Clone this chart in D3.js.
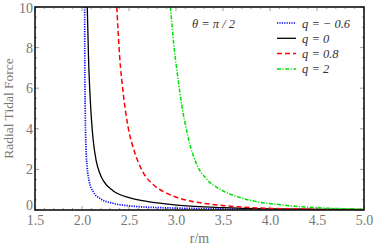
<!DOCTYPE html>
<html>
<head>
<meta charset="utf-8">
<script src="https://cdn.jsdelivr.net/npm/d3@7"></script>
<style>
  body { margin: 0; background: #fff; }
</style>
</head>
<body>
<svg width="374" height="247"></svg>
<script>
const serif = 'Liberation Serif, Times New Roman, DejaVu Serif, serif';

// values, [r/m, force]
const qNeg06 = [[2.028, 10], [2.03, 7.2], [2.034, 5.0], [2.043, 3.0], [2.055, 2.1], [2.075, 1.45], [2.12, 0.9], [2.19, 0.57], [2.33, 0.33], [2.51, 0.2], [2.86, 0.11], [3.04, 0.09], [3.5, 0.05], [4.0, 0.03], [4.5, 0.02], [5.0, 0.012]];
const q0 = [[2.056, 10], [2.07, 7.4], [2.085, 5.7], [2.1, 4.5], [2.12, 3.4], [2.15, 2.45], [2.19, 1.8], [2.23, 1.42], [2.33, 0.95], [2.51, 0.6], [2.69, 0.42], [3.04, 0.23], [3.5, 0.12], [4.0, 0.06], [4.5, 0.035], [5.0, 0.02]];
const q08 = [[2.37, 10], [2.4, 7.6], [2.44, 5.7], [2.49, 4.1], [2.56, 2.85], [2.65, 1.85], [2.76, 1.24], [2.9, 0.83], [3.02, 0.6], [3.15, 0.44], [3.36, 0.29], [3.65, 0.16], [4.0, 0.08], [4.5, 0.04], [5.0, 0.02]];
const q2 = [[2.94, 10], [2.98, 8.0], [3.02, 6.5], [3.06, 5.2], [3.1, 4.2], [3.15, 3.2], [3.22, 2.25], [3.33, 1.5], [3.47, 1.02], [3.65, 0.66], [3.86, 0.41], [4.11, 0.26], [4.46, 0.12], [4.75, 0.07], [5.0, 0.04]];

const seriesNames = ['q = − 0.6', 'q = 0', 'q = 0.8', 'q = 2'];
const xTicks = [1.5, 2.0, 2.5, 3.0, 3.5, 4.0, 4.5, 5.0];
const yTicks = [0, 2, 4, 6, 8, 10];

const series = [
  { name: seriesNames[0], data: qNeg06, color: '#0000ff', dash: '1.2,1.2', width: 1.7 },
  { name: seriesNames[1], data: q0, color: '#000000', dash: null, width: 1.3 },
  { name: seriesNames[2], data: q08, color: '#ff0000', dash: '5,3', width: 1.5 },
  { name: seriesNames[3], data: q2, color: '#00e000', dash: '4,1.5,1.2,1.5', width: 1.5 }
];

const svg = d3.select('svg');
const margin = { left: 35, right: 10, top: 7, bottom: 37 };
const width = 374, height = 247;

const x = d3.scaleLinear().domain([1.5, 5.0]).range([margin.left, width - margin.right]);
const y = d3.scaleLinear().domain([0, 10]).range([height - margin.bottom, margin.top]);

svg.append('defs').append('clipPath').attr('id', 'clip')
  .append('rect')
  .attr('x', x(1.5)).attr('y', y(10))
  .attr('width', x(5) - x(1.5)).attr('height', y(0) - y(10));

// minor ticks, inward
const minorX = d3.range(1.5, 5.0001, 0.1);
const minorY = d3.range(0, 10.001, 0.5);
const tickG = svg.append('g').attr('stroke', '#888').attr('stroke-width', 0.8);
minorX.forEach(v => {
  const isMajor = Math.abs(v * 2 - Math.round(v * 2)) < 1e-6;
  const len = isMajor ? 4 : 2;
  tickG.append('line').attr('x1', x(v)).attr('x2', x(v)).attr('y1', y(0)).attr('y2', y(0) - len);
  tickG.append('line').attr('x1', x(v)).attr('x2', x(v)).attr('y1', y(10)).attr('y2', y(10) + len);
});
minorY.forEach(v => {
  const isMajor = Math.abs(v / 2 - Math.round(v / 2)) < 1e-6;
  const len = isMajor ? 4 : 2;
  tickG.append('line').attr('y1', y(v)).attr('y2', y(v)).attr('x1', x(1.5)).attr('x2', x(1.5) + len);
  tickG.append('line').attr('y1', y(v)).attr('y2', y(v)).attr('x1', x(5)).attr('x2', x(5) - len);
});

// curves
const line = d3.line()
  .x(d => x(d[0]))
  .y(d => y(d[1]))
  .curve(d3.curveMonotoneX);

const plot = svg.append('g').attr('clip-path', 'url(#clip)');
series.forEach(s => {
  plot.append('path')
    .datum(s.data)
    .attr('d', line)
    .attr('fill', 'none')
    .attr('stroke', s.color)
    .attr('stroke-width', s.width)
    .attr('stroke-dasharray', s.dash);
});

// frame
svg.append('rect')
  .attr('x', x(1.5)).attr('y', y(10))
  .attr('width', x(5) - x(1.5)).attr('height', y(0) - y(10))
  .attr('fill', 'none').attr('stroke', '#111').attr('stroke-width', 1.6);

// tick labels
const axisX = d3.axisBottom(x).tickValues(xTicks).tickFormat(d3.format('.1f')).tickSize(0).tickPadding(5);
svg.append('g').attr('transform', `translate(0,${y(0)})`).call(axisX)
  .call(g => g.select('.domain').remove())
  .selectAll('text')
  .style('font-family', serif)
  .attr('font-size', 14).attr('fill', '#777');

const axisY = d3.axisLeft(y).tickValues(yTicks).tickFormat(d3.format('d')).tickSize(0).tickPadding(2);
svg.append('g').attr('transform', `translate(${x(1.5)},0)`).call(axisY)
  .call(g => g.select('.domain').remove())
  .selectAll('text')
  .attr('dy', d => d === 0 ? '-0.05em' : d === 10 ? '0.4em' : '0.32em')
  .style('font-family', serif)
  .attr('font-size', 14).attr('fill', '#777');

// axis titles
svg.append('text')
  .attr('x', x(3.25)).attr('y', 243)
  .attr('text-anchor', 'middle')
  .style('font-family', serif)
  .attr('font-size', 14).attr('fill', '#777')
  .text('r/m');

svg.append('text')
  .attr('transform', `translate(13,${y(5)}) rotate(-90)`)
  .attr('text-anchor', 'middle')
  .style('font-family', serif)
  .attr('font-size', 13.5).attr('fill', '#777')
  .text('Radial Tidal Force');

// annotation
svg.append('text')
  .attr('x', 192).attr('y', 28)
  .style('font-family', serif)
  .attr('font-size', 12.5).attr('font-style', 'italic').attr('fill', '#333')
  .text('θ = π / 2');

// legend
const legend = svg.append('g').attr('transform', 'translate(277,23)');
series.forEach((s, i) => {
  const g = legend.append('g').attr('transform', `translate(0,${i * 15.3})`);
  g.append('line')
    .attr('x1', 0).attr('x2', 19).attr('y1', 0).attr('y2', 0)
    .attr('stroke', s.color).attr('stroke-width', s.width)
    .attr('stroke-dasharray', s.dash);
  g.append('text')
    .attr('x', 25).attr('y', 4.5)
    .style('font-family', serif)
    .attr('font-size', 12.5).attr('font-style', 'italic').attr('fill', '#333')
    .text(s.name);
});
</script>
</body>
</html>
